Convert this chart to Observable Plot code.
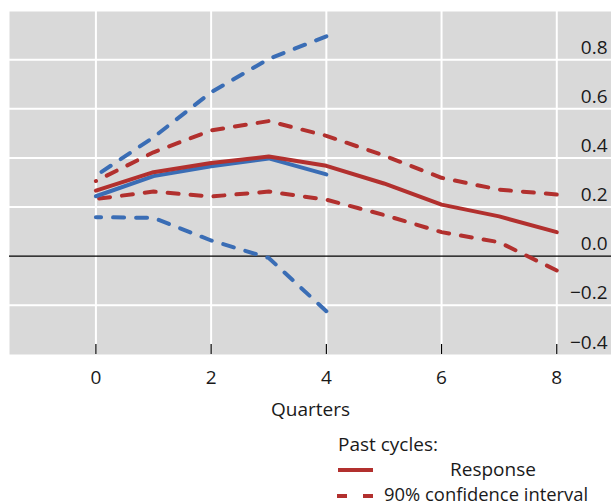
<!DOCTYPE html>
<html><head><meta charset="utf-8">
<script src="https://cdn.jsdelivr.net/npm/d3@7"></script>
<script src="https://cdn.jsdelivr.net/npm/@observablehq/plot@0.6"></script>
<style>
body{margin:0;background:#fff;font-family:"Open Sans",sans-serif;}
#wrap{position:relative;width:611px;height:504px;overflow:hidden;}
#chart{position:absolute;left:0;top:0;}
#legend{position:absolute;left:0;top:425px;overflow:visible;}
</style></head><body>
<div id="wrap"><div id="chart"></div><svg id="legend" width="611" height="79"></svg></div>
<script>
// ---- data ----
const quarters = [0, 1, 2, 3, 4, 5, 6, 7, 8];
const pastResponse = [0.267, 0.342, 0.379, 0.406, 0.368, 0.296, 0.210, 0.162, 0.098];
const pastUpper    = [0.306, 0.423, 0.512, 0.550, 0.490, 0.410, 0.319, 0.271, 0.251];
const pastLower    = [0.233, 0.263, 0.243, 0.263, 0.230, 0.168, 0.098, 0.057, -0.058];
const currentQuarters = [0, 1, 2, 3, 4];
const currentResponse = [0.244, 0.326, 0.366, 0.398, 0.333];
const currentUpper    = [0.328, 0.484, 0.667, 0.803, 0.895];
const currentLower    = [0.159, 0.156, 0.064, -0.007, -0.224];
const xTicks = [0, 2, 4, 6, 8];
const xLabels = ["0", "2", "4", "6", "8"];
const yTicks = [-0.4, -0.2, 0.0, 0.2, 0.4, 0.6, 0.8];
const yLabels = ["\u22120.4", "\u22120.2", "0.0", "0.2", "0.4", "0.6", "0.8"];
const gridYTicks = [-0.2, 0.2, 0.4, 0.6, 0.8, 1.0];
const xDomain = [-1.5, 8.95];
const yDomain = [-0.4, 1.0];
const xTitle = "Quarters";
const legendTitle = "Past cycles:";
const legendItems = ["Response", "90% confidence interval"];

const RED = "#b2302e", BLUE = "#3a6db5";
const FONT = '"Open Sans", sans-serif';
const FS = 19;

const past = quarters.map((q, i) => ({q, r: pastResponse[i], u: pastUpper[i], l: pastLower[i]}));
const cur = currentQuarters.map((q, i) => ({q, r: currentResponse[i], u: currentUpper[i], l: currentLower[i]}));
const pastRev = past.slice().reverse();
const curRev = cur.slice().reverse();
const dash = "11,12";

const chart = Plot.plot({
  width: 611, height: 425,
  marginTop: 10, marginBottom: 71, marginLeft: 9, marginRight: 0,
  x: {domain: xDomain, axis: null},
  y: {domain: yDomain, axis: null},
  style: {fontFamily: FONT, fontSize: FS + "px", color: "#1a1a1a", background: "transparent"},
  marks: [
    Plot.frame({fill: "#d9d9d9", stroke: null}),
    Plot.gridX(xTicks, {stroke: "white", strokeOpacity: 1, strokeWidth: 2}),
    Plot.gridY(gridYTicks, {stroke: "white", strokeOpacity: 1, strokeWidth: 2}),
    Plot.ruleY([0], {stroke: "black", strokeWidth: 1.2}),
    Plot.ruleX(xTicks, {y1: yDomain[0], y2: yDomain[0], insetTop: -10, stroke: "black", strokeWidth: 1.2}),
    Plot.line(curRev, {x: "q", y: "u", stroke: BLUE, strokeWidth: 4, strokeDasharray: dash, strokeLinejoin: "round"}),
    Plot.line(curRev, {x: "q", y: "l", stroke: BLUE, strokeWidth: 4, strokeDasharray: dash, strokeLinejoin: "round"}),
    Plot.line(pastRev, {x: "q", y: "u", stroke: RED, strokeWidth: 4, strokeDasharray: dash, strokeLinejoin: "round"}),
    Plot.line(pastRev, {x: "q", y: "l", stroke: RED, strokeWidth: 4, strokeDasharray: dash, strokeLinejoin: "round"}),
    Plot.line(cur, {x: "q", y: "r", stroke: BLUE, strokeWidth: 4, strokeLinejoin: "round"}),
    Plot.line(past, {x: "q", y: "r", stroke: RED, strokeWidth: 4, strokeLinejoin: "round"}),
    Plot.text(xTicks, {x: d => d, text: (d, i) => xLabels[i], frameAnchor: "bottom", lineAnchor: "top", dy: 16, fontSize: FS, fill: "#1a1a1a"}),
    Plot.text([xTitle], {frameAnchor: "bottom", lineAnchor: "top", dy: 48, fontSize: FS, fill: "#1a1a1a"}),
    Plot.text(yTicks, {y: d => d, text: (d, i) => yLabels[i], frameAnchor: "right", textAnchor: "end", dx: -4, dy: -12, fontSize: FS, fill: "#1a1a1a"})
  ]
});
document.getElementById("chart").appendChild(chart);

// ---- legend ----
const lg = d3.select("#legend");
lg.append("text").attr("x", 338).attr("y", 26).attr("font-family", FONT).attr("font-size", FS).attr("fill", "#1a1a1a").text(legendTitle);
lg.append("line").attr("x1", 338).attr("x2", 373).attr("y1", 45).attr("y2", 45).attr("stroke", RED).attr("stroke-width", 4);
lg.append("text").attr("x", 493).attr("y", 51).attr("text-anchor", "middle").attr("font-family", FONT).attr("font-size", FS).attr("fill", "#1a1a1a").text(legendItems[0]);
lg.append("line").attr("x1", 337).attr("x2", 373).attr("y1", 71).attr("y2", 71).attr("stroke", RED).attr("stroke-width", 4).attr("stroke-dasharray", "10,16");
lg.append("text").attr("x", 384).attr("y", 75.5).attr("font-family", FONT).attr("font-size", 18.4).attr("fill", "#1a1a1a").text(legendItems[1]);
</script>
</body></html>
